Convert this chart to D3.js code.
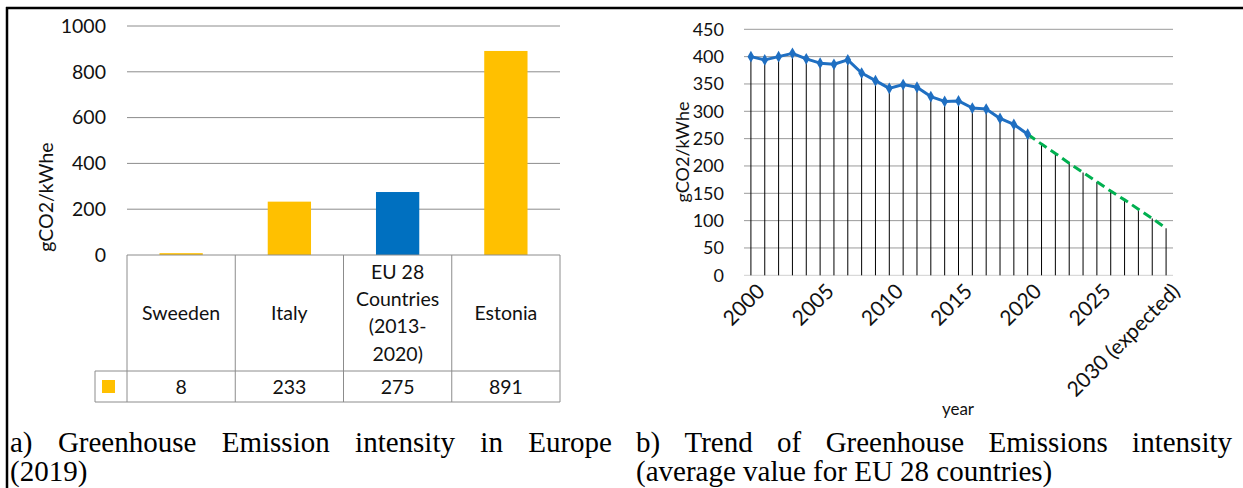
<!DOCTYPE html>
<html>
<head>
<meta charset="utf-8">
<script src="https://cdn.jsdelivr.net/npm/d3@7"></script>
<style>
  body { margin: 0; background: #fff; }
  svg { display: block; }
</style>
</head>
<body>
<svg id="fig" width="1243" height="488"></svg>
<script>
// ---- Panel a: greenhouse emission intensity in Europe (2019) ----
const countries = ["Sweeden", "Italy", "EU 28 Countries (2013-2020)", "Estonia"];
const countryLines = [["Sweeden"], ["Italy"], ["EU 28", "Countries", "(2013-", "2020)"], ["Estonia"]];
const intensity2019 = [8, 233, 275, 891];
const barTicks = [0, 200, 400, 600, 800, 1000];

// ---- Panel b: trend of the EU 28 average intensity ----
const years = [2000, 2001, 2002, 2003, 2004, 2005, 2006, 2007, 2008, 2009, 2010,
               2011, 2012, 2013, 2014, 2015, 2016, 2017, 2018, 2019, 2020,
               2021, 2022, 2023, 2024, 2025, 2026, 2027, 2028, 2029, 2030];
const measuredYears = [2000, 2001, 2002, 2003, 2004, 2005, 2006, 2007, 2008, 2009, 2010,
                       2011, 2012, 2013, 2014, 2015, 2016, 2017, 2018, 2019, 2020];
const measured = [400, 394, 400, 406, 396, 388, 386, 394, 370, 356, 342,
                  349, 344, 327, 318, 319, 306, 304, 287, 276, 258];
const expectedYears = [2020, 2021, 2022, 2023, 2024, 2025, 2026, 2027, 2028, 2029, 2030];
const expected = [258, 240, 223, 205, 188, 171, 154, 138, 121, 104, 86];
const trendTicks = [0, 50, 100, 150, 200, 250, 300, 350, 400, 450];
const yearTickAt = [2000, 2005, 2010, 2015, 2020, 2025, 2030];
const yearTickLabels = ["2000", "2005", "2010", "2015", "2020", "2025", "2030 (expected)"];

const sans = "Lato, 'Open Sans', sans-serif";
const serif = "'Liberation Serif', 'Times New Roman', serif";
const GOLD = "#ffc000", BLUE = "#0070c0", LINE = "#1f6fc2", GREEN = "#00b050";

const svg = d3.select("#fig");

// outer frame (top and left rules)
svg.append("line").attr("x1", 6).attr("x2", 1243).attr("y1", 8).attr("y2", 8)
  .attr("stroke", "#000").attr("stroke-width", 2.5);
svg.append("line").attr("x1", 7).attr("x2", 7).attr("y1", 7).attr("y2", 488)
  .attr("stroke", "#000").attr("stroke-width", 2.5);

// ================= Panel a =================
const gA = svg.append("g");
const xA = d3.scaleBand().domain(countries).range([127, 560]).paddingInner(0.6).paddingOuter(0.3);
const yA = d3.scaleLinear().domain([0, 1000]).range([255, 26]);
const stepA = xA.step();
const colLeft = c => xA(c) - stepA * xA.paddingOuter();
const colMid = c => xA(c) + xA.bandwidth() / 2;

// gridlines
gA.append("g").selectAll("line").data(barTicks.filter(t => t > 0)).join("line")
  .attr("x1", 127).attr("x2", 560)
  .attr("y1", d => yA(d)).attr("y2", d => yA(d))
  .attr("stroke", "#8c8c8c").attr("stroke-width", 1);

// value axis labels
const axA = gA.append("g").attr("transform", "translate(127,0)")
  .call(d3.axisLeft(yA).tickValues(barTicks).tickSize(0).tickPadding(21).tickFormat(d3.format("d")));
axA.select(".domain").remove();
axA.selectAll("text").attr("font-family", sans).attr("font-size", 19.5).attr("fill", "#111");

// bars
gA.append("g").selectAll("rect").data(countries).join("rect")
  .attr("x", c => xA(c))
  .attr("width", xA.bandwidth())
  .attr("y", (c, i) => yA(intensity2019[i]))
  .attr("height", (c, i) => yA(0) - yA(intensity2019[i]))
  .attr("fill", (c, i) => i === 2 ? BLUE : GOLD);

// data table under the bars
const tbl = gA.append("g").attr("stroke", "#8c8c8c").attr("stroke-width", 1);
const rowTop = yA(0), rowMid = 371, rowBot = 402, keyLeft = 95;
tbl.append("line").attr("x1", 127).attr("x2", 560).attr("y1", rowTop).attr("y2", rowTop);
tbl.append("line").attr("x1", keyLeft).attr("x2", 560).attr("y1", rowMid).attr("y2", rowMid);
tbl.append("line").attr("x1", keyLeft).attr("x2", 560).attr("y1", rowBot).attr("y2", rowBot);
tbl.append("line").attr("x1", keyLeft).attr("x2", keyLeft).attr("y1", rowMid).attr("y2", rowBot);
const bounds = countries.map(colLeft).concat([colLeft(countries[3]) + stepA]);
tbl.selectAll("line.v").data(bounds).join("line").attr("class", "v")
  .attr("x1", d => d).attr("x2", d => d).attr("y1", rowTop).attr("y2", rowBot);

// category headers
const lineGap = 27.3;
countries.forEach((c, i) => {
  const lines = countryLines[i];
  const y0 = (rowTop + rowMid) / 2 - (lines.length - 1) * lineGap / 2;
  gA.append("text").attr("font-family", sans).attr("font-size", 19.5).attr("fill", "#111")
    .attr("text-anchor", "middle")
    .selectAll("tspan").data(lines).join("tspan")
    .attr("x", colMid(c)).attr("y", (d, k) => y0 + k * lineGap).attr("dy", "0.35em")
    .text(d => d);
});
// values row
gA.append("g").selectAll("text").data(countries).join("text")
  .attr("x", c => colMid(c)).attr("y", (rowMid + rowBot) / 2).attr("dy", "0.36em")
  .attr("text-anchor", "middle").attr("font-family", sans).attr("font-size", 19.5).attr("fill", "#111")
  .text((c, i) => intensity2019[i]);
// legend key
gA.append("rect").attr("x", 102).attr("y", 380).attr("width", 13).attr("height", 13).attr("fill", GOLD);

// axis title
gA.append("text").attr("transform", "translate(46,197) rotate(-90)")
  .attr("text-anchor", "middle").attr("dy", "0.35em")
  .attr("font-family", sans).attr("font-size", 19.5).attr("fill", "#111")
  .text("gCO2/kWhe");

// ================= Panel b =================
const gB = svg.append("g");
const xB = d3.scaleBand().domain(years).range([744, 1173]);
const yB = d3.scaleLinear().domain([0, 450]).range([275.3, 29.3]);
const cx = yr => xB(yr) + xB.bandwidth() / 2;

// gridlines
gB.append("g").selectAll("line").data(trendTicks).join("line")
  .attr("x1", 744).attr("x2", 1173)
  .attr("y1", d => yB(d)).attr("y2", d => yB(d))
  .attr("stroke", d => d === 0 ? "#d0d0d0" : "#9a9a9a").attr("stroke-width", 1);

const axB = gB.append("g").attr("transform", "translate(744,0)")
  .call(d3.axisLeft(yB).tickValues(trendTicks).tickSize(0).tickPadding(20));
axB.select(".domain").remove();
axB.selectAll("text").attr("font-family", sans).attr("font-size", 18).attr("fill", "#111");

// drop lines from each point down to the category axis
const topValue = new Map();
measuredYears.forEach((yr, i) => topValue.set(yr, measured[i]));
expectedYears.forEach((yr, i) => { if (!topValue.has(yr)) topValue.set(yr, expected[i]); });
gB.append("g").selectAll("line").data(years).join("line")
  .attr("x1", d => cx(d)).attr("x2", d => cx(d))
  .attr("y1", d => yB(topValue.get(d))).attr("y2", yB(0))
  .attr("stroke", "#000").attr("stroke-width", 1);

// expected trend (dashed)
gB.append("path")
  .datum(expectedYears.map((yr, i) => [yr, expected[i]]))
  .attr("d", d3.line().x(d => cx(d[0])).y(d => yB(d[1])))
  .attr("fill", "none").attr("stroke", GREEN).attr("stroke-width", 3)
  .attr("stroke-dasharray", "9,5");

// measured series
const pts = measuredYears.map((yr, i) => [yr, measured[i]]);
gB.append("path").datum(pts)
  .attr("d", d3.line().x(d => cx(d[0])).y(d => yB(d[1])))
  .attr("fill", "none").attr("stroke", LINE).attr("stroke-width", 3)
  .attr("stroke-linejoin", "round");
gB.append("g").selectAll("path").data(pts).join("path")
  .attr("transform", d => `translate(${cx(d[0])},${yB(d[1])})`)
  .attr("d", d3.symbol(d3.symbolDiamond).size(40))
  .attr("fill", LINE);

// rotated year labels
gB.append("g").selectAll("text").data(yearTickAt).join("text")
  .attr("transform", d => `translate(${cx(d) + 10},${yB(0) + 12}) rotate(-45)`)
  .attr("text-anchor", "end").attr("dy", "0.35em")
  .attr("font-family", sans).attr("font-size", 21).attr("fill", "#111")
  .text((d, i) => yearTickLabels[i]);

gB.append("text").attr("x", 958).attr("y", 415).attr("text-anchor", "middle")
  .attr("font-family", sans).attr("font-size", 17).attr("fill", "#111").text("year");

gB.append("text").attr("transform", "translate(683,152) rotate(-90)")
  .attr("text-anchor", "middle").attr("dy", "0.35em")
  .attr("font-family", sans).attr("font-size", 18).attr("fill", "#111")
  .text("gCO2/kWhe");

// ================= Captions =================
const capSize = 29;
function justified(words, x0, x1, y) {
  const g = svg.append("g").attr("font-family", serif).attr("font-size", capSize).attr("fill", "#000");
  const nodes = words.map(w => g.append("text").attr("y", y).text(w));
  const widths = nodes.map(n => n.node().getComputedTextLength());
  const gap = (x1 - x0 - d3.sum(widths)) / (words.length - 1);
  let x = x0;
  nodes.forEach((n, i) => { n.attr("x", x); x += widths[i] + gap; });
}
function plain(str, x, y) {
  svg.append("text").attr("x", x).attr("y", y)
    .attr("font-family", serif).attr("font-size", capSize).attr("fill", "#000").text(str);
}
justified(["a)", "Greenhouse", "Emission", "intensity", "in", "Europe"], 10, 612, 452);
plain("(2019)", 10, 481);
justified(["b)", "Trend", "of", "Greenhouse", "Emissions", "intensity"], 636, 1232, 452);
plain("(average value for EU 28 countries)", 636, 481);
</script>
</body>
</html>
